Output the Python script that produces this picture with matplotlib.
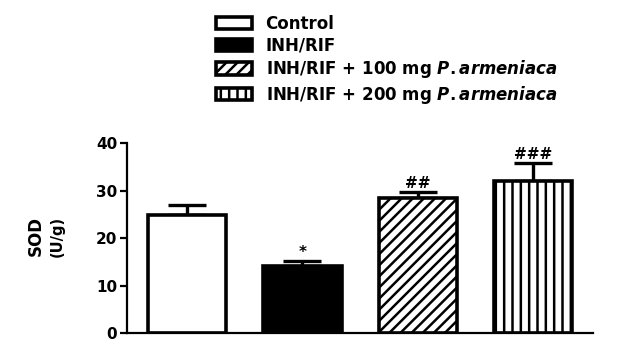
import matplotlib
matplotlib.use("Agg")
import matplotlib.pyplot as plt

plt.rcParams['font.family'] = ['DejaVu Sans']
plt.rcParams['font.weight'] = 'bold'
plt.rcParams['mathtext.fontset'] = 'custom'
plt.rcParams['mathtext.it'] = 'DejaVu Sans:italic:bold'
plt.rcParams['mathtext.rm'] = 'DejaVu Sans:bold'
plt.rcParams['hatch.linewidth'] = 1.8

groups = ["Control", "INH/RIF", "INH/RIF + 100 mg $\\it{P. armeniaca}$",
          "INH/RIF + 200 mg $\\it{P. armeniaca}$"]
sod_means = [24.8, 14.1, 28.4, 32.0]
sod_err = [2.2, 1.1, 1.3, 3.8]
sig_marks = ["", "*", "##", "###"]

fills = ["white", "black", "white", "white"]
hatches = [None, None, "///", "||"]

fig = plt.figure(figsize=(6.23, 3.55), dpi=100)
ax = fig.add_axes([0.204, 0.062, 0.748, 0.535])

x = list(range(len(groups)))
bars = ax.bar(x, sod_means, width=0.68, color=fills, edgecolor="black",
              linewidth=2.6, zorder=2)
for b, h in zip(bars, hatches):
    if h:
        b.set_hatch(h)

ax.errorbar(x, sod_means, yerr=[[0] * 4, sod_err], fmt="none", ecolor="black",
            elinewidth=2.4, capsize=14, capthick=2.4, zorder=1)

for xi, m, e, s in zip(x, sod_means, sod_err, sig_marks):
    if s:
        ax.text(xi, m + e + 0.2, s, ha="center", va="bottom", fontsize=11,
                fontweight="bold")

ax.set_xlim(-0.52, 3.52)
ax.set_ylim(0, 40)
ax.set_yticks([0, 10, 20, 30, 40])
ax.set_xticks([])
ax.spines["top"].set_visible(False)
ax.spines["right"].set_visible(False)
ax.spines["left"].set_linewidth(1.6)
ax.spines["bottom"].set_linewidth(1.6)
ax.tick_params(axis="y", direction="out", length=5, width=1.6, labelsize=11,
               pad=2)
for lbl in ax.get_yticklabels():
    lbl.set_fontweight("bold")

fig.text(0.058, 0.335, "SOD", rotation=90, ha="center", va="center",
         fontsize=12, fontweight="bold")
fig.text(0.092, 0.335, "(U/g)", rotation=90, ha="center", va="center",
         fontsize=10.5, fontweight="bold")

fig.legend(bars, groups, loc="upper left", bbox_to_anchor=(0.322, 1.0),
           frameon=False, fontsize=12, handlelength=2.2, handleheight=0.75,
           labelspacing=0.22, handletextpad=0.8)

fig.savefig("out.png", dpi=100)
